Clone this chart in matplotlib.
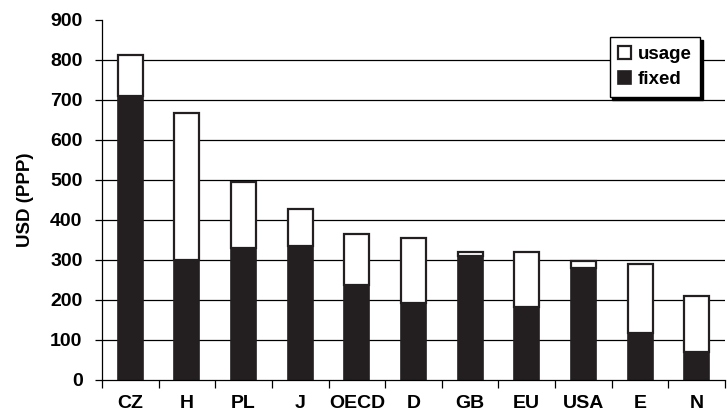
import numpy as np
import matplotlib.pyplot as plt

countries = ['CZ', 'H', 'PL', 'J', 'OECD', 'D', 'GB', 'EU', 'USA', 'E', 'N']
fixed = [710, 300, 329, 336, 237, 193, 311, 183, 279, 117, 69]
total = [812, 667, 496, 427, 364, 356, 319, 319, 297, 289, 210]
usage = [t - f for t, f in zip(total, fixed)]

plt.rcParams['font.family'] = ['Liberation Sans', 'DejaVu Sans']
plt.rcParams['font.weight'] = 'bold'
plt.rcParams['axes.labelweight'] = 'bold'

fig = plt.figure(figsize=(7.27, 4.18), dpi=100)
ax = fig.add_axes([102 / 727, 38 / 418, 623 / 727, 360 / 418])

x = np.arange(len(countries))
for yv in range(100, 900, 100):
    ax.axhline(yv, color='black', lw=0.9, zorder=0)

ax.bar(x, fixed, width=0.44, color='#231f20', edgecolor='#231f20', lw=1.2,
       label='fixed', zorder=2)
ax.bar(x, usage, bottom=fixed, width=0.44, color='white', edgecolor='#231f20',
       lw=1.6, label='usage', zorder=2)

ax.set_xlim(-0.5, len(countries) - 0.5)
ax.set_ylim(0, 900)
ax.set_yticks(range(0, 1000, 100))
ax.tick_params(axis='y', labelsize=14, length=5, width=0.9, pad=9)
ax.set_xticks(x)
ax.set_xticklabels(countries, fontsize=14)
ax.tick_params(axis='x', length=0, pad=11)
ax.set_xticks(np.arange(-0.5, len(countries) - 0.4, 1), minor=True)
ax.tick_params(axis='x', which='minor', length=6, width=0.9, direction='out')

for s in ['top', 'right']:
    ax.spines[s].set_visible(False)
ax.spines['left'].set_linewidth(0.9)
ax.spines['bottom'].set_linewidth(0.9)

ax.set_ylabel('USD (PPP)', fontsize=13.5, labelpad=12)

handles, labels = ax.get_legend_handles_labels()
leg = ax.legend(handles[::-1], labels[::-1], loc='upper right',
                bbox_to_anchor=(0.975, 0.978), fontsize=13.5, frameon=True,
                fancybox=False, shadow={'color': 'black', 'alpha': 1},
                handlelength=0.7, handleheight=0.7, handletextpad=0.35,
                borderpad=0.45, labelspacing=0.45)
leg.get_frame().set_edgecolor('black')
leg.get_frame().set_linewidth(1.0)
leg.get_frame().set_alpha(1)

fig.savefig('out.png', dpi=100)
